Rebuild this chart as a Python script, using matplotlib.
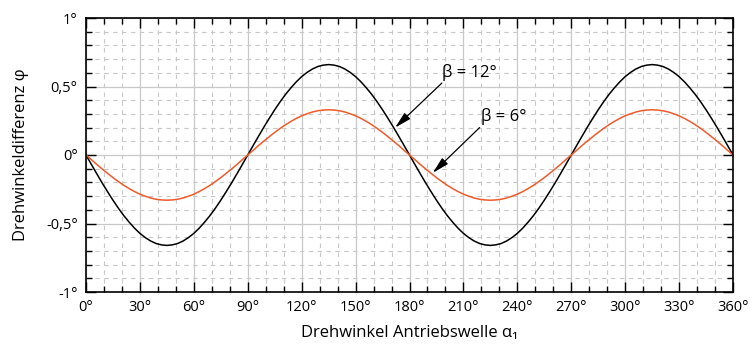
import matplotlib
matplotlib.use('Agg')
import matplotlib.pyplot as plt
from matplotlib.ticker import MultipleLocator, FixedLocator

plt.rcParams['font.family'] = ['Open Sans', 'DejaVu Sans']

# Drehwinkel der Antriebswelle in Grad (Schritt 3°)
alpha = list(range(0, 361, 3))

# Drehwinkeldifferenz für beta = 12°
phi_12 = [0, -0.069, -0.137, -0.204, -0.268, -0.33, -0.388, -0.442, -0.49, -0.534,
          -0.572, -0.603, -0.628, -0.646, -0.656, -0.66, -0.656, -0.646, -0.628, -0.603,
          -0.572, -0.534, -0.49, -0.442, -0.388, -0.33, -0.268, -0.204, -0.137, -0.069,
          0, 0.069, 0.137, 0.204, 0.268, 0.33, 0.388, 0.442, 0.49, 0.534,
          0.572, 0.603, 0.628, 0.646, 0.656, 0.66, 0.656, 0.646, 0.628, 0.603,
          0.572, 0.534, 0.49, 0.442, 0.388, 0.33, 0.268, 0.204, 0.137, 0.069,
          0, -0.069, -0.137, -0.204, -0.268, -0.33, -0.388, -0.442, -0.49, -0.534,
          -0.572, -0.603, -0.628, -0.646, -0.656, -0.66, -0.656, -0.646, -0.628, -0.603,
          -0.572, -0.534, -0.49, -0.442, -0.388, -0.33, -0.268, -0.204, -0.137, -0.069,
          0, 0.069, 0.137, 0.204, 0.268, 0.33, 0.388, 0.442, 0.49, 0.534,
          0.572, 0.603, 0.628, 0.646, 0.656, 0.66, 0.656, 0.646, 0.628, 0.603,
          0.572, 0.534, 0.49, 0.442, 0.388, 0.33, 0.268, 0.204, 0.137, 0.069,
          0]

# Drehwinkeldifferenz für beta = 6°
phi_6 = [0, -0.034, -0.069, -0.102, -0.134, -0.165, -0.194, -0.221, -0.245, -0.267,
         -0.286, -0.301, -0.314, -0.323, -0.328, -0.33, -0.328, -0.323, -0.314, -0.301,
         -0.286, -0.267, -0.245, -0.221, -0.194, -0.165, -0.134, -0.102, -0.069, -0.034,
         0, 0.034, 0.069, 0.102, 0.134, 0.165, 0.194, 0.221, 0.245, 0.267,
         0.286, 0.301, 0.314, 0.323, 0.328, 0.33, 0.328, 0.323, 0.314, 0.301,
         0.286, 0.267, 0.245, 0.221, 0.194, 0.165, 0.134, 0.102, 0.069, 0.034,
         0, -0.034, -0.069, -0.102, -0.134, -0.165, -0.194, -0.221, -0.245, -0.267,
         -0.286, -0.301, -0.314, -0.323, -0.328, -0.33, -0.328, -0.323, -0.314, -0.301,
         -0.286, -0.267, -0.245, -0.221, -0.194, -0.165, -0.134, -0.102, -0.069, -0.034,
         0, 0.034, 0.069, 0.102, 0.134, 0.165, 0.194, 0.221, 0.245, 0.267,
         0.286, 0.301, 0.314, 0.323, 0.328, 0.33, 0.328, 0.323, 0.314, 0.301,
         0.286, 0.267, 0.245, 0.221, 0.194, 0.165, 0.134, 0.102, 0.069, 0.034,
         0]

x_ticks = [0, 30, 60, 90, 120, 150, 180, 210, 240, 270, 300, 330, 360]
x_labels = [f'{v}°' for v in x_ticks]
y_ticks = [-1, -0.5, 0, 0.5, 1]
y_labels = ['-1°', '-0,5°', '0°', '0,5°', '1°']

fig = plt.figure(figsize=(7.55, 3.48), dpi=100)
ax = fig.add_axes([86 / 755, 1 - 292 / 348, (733 - 86) / 755, (292 - 18) / 348])

ax.set_xlim(0, 360)
ax.set_ylim(-1, 1)

ax.xaxis.set_major_locator(FixedLocator(x_ticks))
ax.xaxis.set_minor_locator(MultipleLocator(10))
ax.yaxis.set_major_locator(FixedLocator(y_ticks))
ax.yaxis.set_minor_locator(MultipleLocator(0.1))
ax.set_xticklabels(x_labels)
ax.set_yticklabels(y_labels)

grid_col = '#c8c8c8'
ax.grid(True, which='major', color=grid_col, lw=0.9, ls='-')
ax.grid(True, which='minor', color=grid_col, lw=0.8, ls=(0, (4, 4)))
ax.set_axisbelow(True)

ax.tick_params(which='both', direction='in', top=True, right=True, colors='black',
               labelsize=10.5, width=1)
ax.tick_params(which='major', length=7, pad=6)
ax.tick_params(which='minor', length=4)
for s in ax.spines.values():
    s.set_linewidth(1.2)

ax.plot(alpha, phi_12, color='black', lw=1.1)
ax.plot(alpha, phi_6, color='#ef5a2a', lw=1.1)

arrow = dict(arrowstyle='-|>,head_length=1.0,head_width=0.25', color='black',
             lw=0.9, shrinkA=0, shrinkB=0)
ax.text(198, 0.6, 'β = 12°', fontsize=12, ha='left', va='center')
ax.annotate('', xy=(172, 0.2), xytext=(198, 0.525), arrowprops=arrow)
ax.text(220, 0.28, 'β = 6°', fontsize=12, ha='left', va='center')
ax.annotate('', xy=(193, -0.13), xytext=(219, 0.2), arrowprops=arrow)

ax.set_xlabel('Drehwinkel Antriebswelle α₁', fontsize=12, labelpad=7)
ax.set_ylabel('Drehwinkeldifferenz φ', fontsize=12, labelpad=12)

fig.savefig('out.png', dpi=100)
